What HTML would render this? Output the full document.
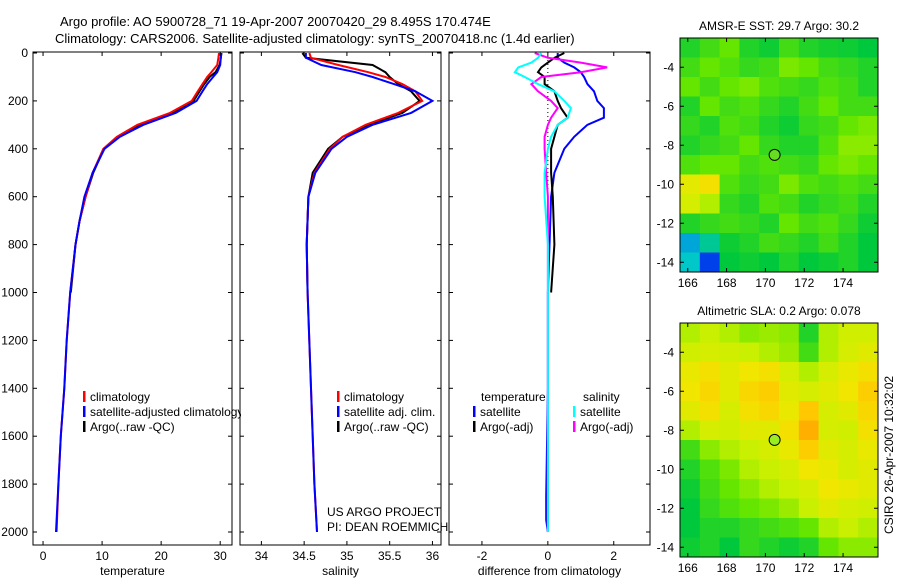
<!DOCTYPE html>
<html><head><meta charset="utf-8"><style>
body{margin:0;background:#fff}
svg{display:block;font-family:"Liberation Sans",sans-serif;font-size:12px}
</style></head><body>
<svg id="fig" width="900" height="580" viewBox="0 0 900 580" xmlns="http://www.w3.org/2000/svg">
<rect width="900" height="580" fill="#fff"/>
<text x="60" y="26" font-size="13">Argo profile: AO 5900728_71 19-Apr-2007 20070420_29 8.495S 170.474E</text>
<text x="55" y="43" font-size="13">Climatology: CARS2006. Satellite-adjusted climatology: synTS_20070418.nc (1.4d earlier)</text>
<g id="panels"></g>
<g id="maps"></g>
<text x="327" y="516">US ARGO PROJECT</text>
<text x="327" y="531">PI: DEAN ROEMMICH</text>
<text transform="translate(893,455) rotate(-90)" text-anchor="middle">CSIRO 26-Apr-2007 10:32:02</text>
</svg>
<script>
// ---- profile data ----
const depthT = [0,20,50,80,100,130,160,200,250,300,350,400,500,600,700,800,1000,1200,1400,1600,1800,2000];
const climT = [29.8,29.7,29.5,28.5,27.8,27,26.2,25.2,21.5,16,12.5,10.2,8.4,7.2,6.2,5.5,4.6,4,3.6,3.0,2.6,2.3];
const satT = [30.2,30.1,30.0,29.5,28.8,27.8,27,26,22.5,17,13,10.4,8.4,7.0,6.2,5.5,4.6,4,3.6,3.0,2.6,2.2];
const argoT = [30.2,30.1,29.9,29.2,28.2,27.3,26.5,25.5,22,16.5,12.8,10.3,8.5,7.2,6.2,5.5,4.7];
const depthS = [0,20,50,80,100,130,160,200,250,300,350,400,500,600,800,1000,1200,1400,1600,1800,2000];
const climS = [34.56,34.58,34.9,35.25,35.45,35.65,35.8,35.88,35.6,35.22,34.95,34.8,34.62,34.55,34.53,34.54,34.56,34.58,34.6,34.62,34.65];
const satS = [34.52,34.52,34.7,35.1,35.3,35.55,35.8,36.0,35.75,35.3,35.0,34.82,34.63,34.55,34.53,34.54,34.56,34.58,34.6,34.62,34.65];
const argoS = [34.48,34.52,35.3,35.45,35.5,35.6,35.75,35.85,35.65,35.25,34.95,34.78,34.6,34.55,34.53,34.54];
const depthD = [0,20,40,60,80,100,130,160,200,230,270,300,350,400,500,600,800,1000,1400,1850,1950,2000];
const diffTsat = [0.3,0.3,0.5,0.8,1.0,1.1,1.2,1.4,1.5,1.7,1.7,1.2,0.8,0.5,0.2,0.1,0.05,0,0,-0.05,-0.05,0];
const diffTargo = [0.5,0.2,0,-0.2,-0.3,-0.1,-0.1,0.2,0.3,0.4,0.6,0.3,0.2,0.1,0.1,0.15,0.2,0.1];
const diffSsat = [-0.2,-0.3,-0.5,-0.9,-1.0,-0.7,-0.3,0.2,0.5,0.7,0.6,0.3,0.1,0,-0.1,-0.1,0,0,0,0,0,0];
const diffSargo = [-0.4,0,1.0,1.8,1.0,-0.2,-0.5,-0.3,0.1,0.3,0.1,0,-0.1,-0.1,-0.05,0,0,0,0,0,0,0];
const depthTicks = [0,200,400,600,800,1000,1200,1400,1600,1800,2000];
const tTicks = [0,10,20,30];
const sTicks = [34,34.5,35,35.5,36];
const dTicks = [-2,0,2];
// ---- map data ----
const sstGrid = [
[.35,.40,.45,.35,.32,.40,.35,.33,.32,.30],
[.40,.45,.42,.38,.40,.48,.45,.40,.38,.35],
[.45,.40,.45,.48,.42,.40,.38,.42,.40,.35],
[.35,.45,.40,.42,.38,.35,.40,.45,.40,.40],
[.38,.35,.42,.40,.35,.32,.38,.40,.45,.48],
[.35,.38,.40,.45,.38,.35,.35,.42,.50,.50],
[.42,.45,.45,.40,.42,.40,.38,.45,.48,.45],
[.66,.72,.42,.38,.40,.48,.42,.40,.42,.40],
[.62,.55,.38,.35,.42,.40,.35,.38,.40,.35],
[.35,.38,.40,.38,.35,.45,.40,.42,.38,.32],
[.20,.25,.32,.35,.40,.38,.35,.40,.35,.30],
[.22,.12,.30,.32,.30,.35,.30,.32,.35,.30]];
const slaGrid = [
[.55,.58,.55,.50,.52,.50,.35,.55,.60,.60],
[.60,.62,.60,.58,.55,.52,.40,.55,.62,.65],
[.68,.72,.65,.70,.72,.62,.55,.62,.68,.72],
[.70,.75,.65,.75,.78,.65,.62,.65,.70,.78],
[.65,.72,.62,.72,.75,.68,.80,.62,.65,.75],
[.55,.62,.60,.65,.65,.72,.85,.62,.60,.72],
[.40,.50,.55,.58,.62,.68,.78,.65,.62,.68],
[.35,.42,.48,.55,.58,.62,.70,.68,.62,.65],
[.32,.40,.45,.50,.55,.58,.62,.70,.68,.65],
[.30,.38,.42,.45,.48,.52,.58,.65,.62,.60],
[.30,.35,.35,.38,.40,.42,.45,.55,.58,.55],
[.32,.35,.30,.38,.35,.32,.35,.45,.50,.50]];
const lonTicks = [166,168,170,172,174];
const latTicks = [-4,-6,-8,-10,-12,-14];
const argoLon = 170.474, argoLat = -8.495;

const NS='http://www.w3.org/2000/svg';
function mk(tag,attrs,parent){const e=document.createElementNS(NS,tag);for(const k in attrs)e.setAttribute(k,attrs[k]);parent.appendChild(e);return e;}
const panels=document.getElementById('panels');
const yTop=52,yBot=545;
const yD=d=>53+d*0.2395;

function panel(name,x0,x1,xmin,xmax,ticks,label,showY){
  const g=mk('g',{},panels);
  
  
  const sx=v=>x0+(v-xmin)/(xmax-xmin)*(x1-x0);
  const clip=mk('clipPath',{id:'c'+name},g);
  mk('rect',{x:x0,y:yTop,width:x1-x0,height:yBot-yTop},clip);
  const plot=mk('g',{'clip-path':'url(#c'+name+')'},g);
  const frame=mk('rect',{x:x0,y:yTop,width:x1-x0,height:yBot-yTop,fill:'none',stroke:'#000'},g);
  
  
  ticks.forEach(t=>{const x=sx(t);
    mk('line',{x1:x,x2:x,y1:yBot,y2:yBot-4,stroke:'#000'},g);
    mk('line',{x1:x,x2:x,y1:yTop,y2:yTop+4,stroke:'#000'},g);
    const tx=mk('text',{x:x,y:yBot+15,'text-anchor':'middle'},g);tx.textContent=t;
    
    });
  depthTicks.forEach(d=>{const y=yD(d);
    mk('line',{x1:x0,x2:x0+4,y1:y,y2:y,stroke:'#000'},g);
    mk('line',{x1:x1,x2:x1-4,y1:y,y2:y,stroke:'#000'},g);
    if(showY){const tx=mk('text',{x:x0-5,y:y+4,'text-anchor':'end'},g);tx.textContent=d;
      
      }});
  const xl=mk('text',{x:(x0+x1)/2,y:575,'text-anchor':'middle'},g);xl.textContent=label;
  
  
  return {plot,sx};
}
function line(p,depths,vals,color,w,nm){
  const pts=vals.map((v,i)=>p.sx(v).toFixed(1)+','+yD(depths[i]).toFixed(1)).join(' ');
  const l=mk('polyline',{points:pts,fill:'none',stroke:color,'stroke-width':w},p.plot);
  
  
}
const p1=panel('temperature-panel',33,232,-1.7,32,tTicks,'temperature',true);
line(p1,depthT,argoT,'#000',2,'argo-temperature-line');
line(p1,depthT,climT,'#f00',2,'climatology-temperature-line');
line(p1,depthT,satT,'#00f',2,'satellite-temperature-line');
const p2=panel('salinity-panel',240,441,33.75,36.1,sTicks,'salinity',false);
line(p2,depthS,argoS,'#000',2,'argo-salinity-line');
line(p2,depthS,climS,'#f00',2,'climatology-salinity-line');
line(p2,depthS,satS,'#00f',2,'satellite-salinity-line');
const p3=panel('difference-panel',449,650,-3,3.1,dTicks,'difference from climatology',false);
mk('line',{x1:p3.sx(0),x2:p3.sx(0),y1:yTop,y2:yD(2000),stroke:'#000','stroke-dasharray':'1,3'},p3.plot);
line(p3,depthD,diffTsat,'#00f',2,'temp-satellite-diff-line');
line(p3,depthD.slice(0,diffTargo.length),diffTargo,'#000',2,'temp-argo-diff-line');
line(p3,depthD,diffSargo,'#f0f',2,'sal-argo-diff-line');
line(p3,depthD,diffSsat,'#0ff',2,'sal-satellite-diff-line');

function legend(x,y,color,txt,nm){
  const g=mk('g',{},panels);
  
  
  if(color) mk('rect',{x:x,y:y-10,width:2.5,height:11,fill:color},g);
  const t=mk('text',{x:x+7,y:y},g);t.textContent=txt;
  if(color===null) t.setAttribute('x',x);
}
legend(83,401,'#f00','climatology','legend-climatology-t');
legend(83,416,'#00f','satellite-adjusted climatology','legend-satellite-t');
legend(83,431,'#000','Argo(..raw -QC)','legend-argo-t');
mk('rect',{x:241,y:405,width:9,height:15,fill:'#fff'},panels);
legend(337,401,'#f00','climatology','legend-climatology-s');
legend(337,416,'#00f','satellite adj. clim.','legend-satellite-s');
legend(337,431,'#000','Argo(..raw -QC)','legend-argo-s');
legend(481,401,null,'temperature','legend-header-temperature');
legend(583,401,null,'salinity','legend-header-salinity');
legend(473,416,'#00f','satellite','legend-temp-satellite');
legend(473,431,'#000','Argo(-adj)','legend-temp-argo');
legend(573,416,'#0ff','satellite','legend-sal-satellite');
legend(573,431,'#f0f','Argo(-adj)','legend-sal-argo');

// ---- maps ----
const maps=document.getElementById('maps');
function cmap(v){
  const stops=[[0,[0,0,150]],[0.15,[0,80,255]],[0.22,[0,200,200]],[0.3,[0,200,60]],[0.45,[100,230,0]],[0.58,[200,240,0]],[0.7,[240,230,0]],[0.8,[255,200,0]],[0.9,[255,150,0]],[1,[240,90,0]]];
  for(let i=1;i<stops.length;i++){if(v<=stops[i][0]){const a=stops[i-1],b=stops[i],f=(v-a[0])/(b[0]-a[0]);
    return 'rgb('+a[1].map((c,k)=>Math.round(c+(b[1][k]-c)*f)).join(',')+')';}}
  return 'rgb(240,90,0)';
}
function map(name,title,grid,x0,x1,y0,y1,circleFill){
  const g=mk('g',{},maps);
  
  
  const lonMin=165.6,lonMax=175.8,latMax=-2.5,latMin=-14.5;
  const sx=v=>x0+(v-lonMin)/(lonMax-lonMin)*(x1-x0);
  const sy=v=>y0+(latMax-v)/(latMax-latMin)*(y1-y0);
  const rows=grid.length,cols=grid[0].length;
  const cw=(x1-x0)/cols,ch=(y1-y0)/rows;
  grid.forEach((r,i)=>r.forEach((v,j)=>{
    const c=mk('rect',{x:x0+j*cw,y:y0+i*ch,width:cw+0.5,height:ch+0.5,fill:cmap(v)},g);
    
    
  }));
  mk('rect',{x:x0,y:y0,width:x1-x0,height:y1-y0,fill:'none',stroke:'#000'},g);
  lonTicks.forEach(t=>{const x=sx(t);mk('line',{x1:x,x2:x,y1:y1,y2:y1-4,stroke:'#000'},g);
    mk('line',{x1:x,x2:x,y1:y0,y2:y0+4,stroke:'#000'},g);
    const tx=mk('text',{x:x,y:y1+15,'text-anchor':'middle'},g);tx.textContent=t;
    
    });
  latTicks.forEach(t=>{const y=sy(t);mk('line',{x1:x0,x2:x0+4,y1:y,y2:y,stroke:'#000'},g);
    mk('line',{x1:x1,x2:x1-4,y1:y,y2:y,stroke:'#000'},g);
    const tx=mk('text',{x:x0-6,y:y+4,'text-anchor':'end'},g);tx.textContent=t;
    
    });
  const tt=mk('text',{x:(x0+x1)/2,y:y0-8,'text-anchor':'middle'},g);tt.textContent=title;
  
  
  const c=mk('circle',{cx:sx(argoLon),cy:sy(argoLat),r:5.5,fill:circleFill,stroke:'#000'},g);
  
  
}
map('sst-map','AMSR-E SST: 29.7 Argo: 30.2',sstGrid,680,878,38,272,'#6d2');
map('sla-map','Altimetric SLA: 0.2 Argo: 0.078',slaGrid,680,878,323,557,'#9e2');
</script>
</body></html>
